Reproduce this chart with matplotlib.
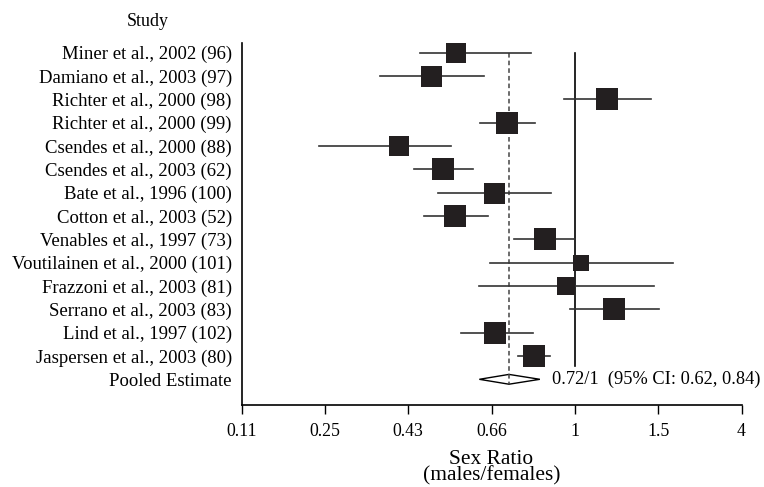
import numpy as np
import matplotlib
matplotlib.use("Agg")
import matplotlib.pyplot as plt

studies = ["Miner et al., 2002 (96)", "Damiano et al., 2003 (97)", "Richter et al., 2000 (98)",
           "Richter et al., 2000 (99)", "Csendes et al., 2000 (88)", "Csendes et al., 2003 (62)",
           "Bate et al., 1996 (100)", "Cotton et al., 2003 (52)", "Venables et al., 1997 (73)",
           "Voutilainen et al., 2000 (101)", "Frazzoni et al., 2003 (81)", "Serrano et al., 2003 (83)",
           "Lind et al., 1997 (102)", "Jaspersen et al., 2003 (80)"]
ratio = [0.549, 0.484, 1.167, 0.713, 0.405, 0.514, 0.668, 0.547, 0.862, 1.031, 0.955, 1.207, 0.673, 0.816]
ci_low = [0.456, 0.359, 0.947, 0.622, 0.235, 0.443, 0.502, 0.466, 0.738, 0.654, 0.618, 0.974, 0.563, 0.755]
ci_high = [0.804, 0.634, 1.45, 0.818, 0.535, 0.600, 0.886, 0.649, 1.0, 1.776, 1.472, 1.506, 0.811, 0.883]
weight = [20.5, 21, 21.5, 22.5, 20, 22.5, 21, 22.5, 22.5, 16.5, 18, 22, 22, 22.5]
pooled = 0.72
pooled_low = 0.62
pooled_high = 0.84
tick_vals = [0.11, 0.25, 0.43, 0.66, 1, 1.5, 4]
tick_labels = ["0.11", "0.25", "0.43", "0.66", "1", "1.5", "4"]

plt.rcParams['font.family'] = ['Liberation Serif', 'DejaVu Serif']

log_ticks = np.log(tick_vals)
pos = np.arange(len(tick_vals), dtype=float)

def fwd(x):
    x = np.clip(np.asarray(x, dtype=float), 1e-6, None)
    return np.interp(np.log(x), log_ticks, pos)

def inv(u):
    return np.exp(np.interp(np.asarray(u, dtype=float), pos, log_ticks))

W, H = 764, 487
fig = plt.figure(figsize=(W / 100, H / 100), dpi=100)
ax = fig.add_axes([241.5 / W, 1 - 404.5 / H, 500 / W, (404.5 - 42.7) / H])
ax.set_xscale('function', functions=(fwd, inv))
ax.set_xlim(tick_vals[0], tick_vals[-1])

n = len(studies)
ys = np.arange(n)

ax.plot([1, 1], [0, 13.45], color='black', lw=1.2, zorder=1)
ax.plot([pooled, pooled], [0, 14.22], color='#444444', lw=1.1, ls=(0, (3, 2)), zorder=1)

for i in range(n):
    ax.plot([ci_low[i], ci_high[i]], [ys[i], ys[i]], color='#333333', lw=1.2, zorder=2)
    ax.plot([ratio[i]], [ys[i]], marker='s', ms=weight[i] * 0.72, color='#231f20',
            markeredgewidth=0, zorder=3)

yp = n
dx = [pooled_low, pooled, pooled_high, pooled, pooled_low]
dy = [yp, yp - 0.21, yp, yp + 0.21, yp]
ax.fill(dx, dy, facecolor='white', edgecolor='black', lw=1.0, zorder=4)
ax.plot([pooled, pooled], [yp - 0.21, yp + 0.21], color='#444444', lw=1.1, ls=(0, (3, 2)), zorder=5)
ax.annotate("0.72/1  (95% CI: 0.62, 0.84)", xy=(pooled_high, yp), xytext=(9, 0),
            textcoords='offset points', fontsize=13.2, va='center', ha='left')

ax.set_ylim(15.08, -0.43)
ax.set_yticks(list(ys) + [yp])
ax.set_yticklabels(studies + ["Pooled Estimate"], fontsize=13.5)
ax.tick_params(axis='y', length=0, pad=7)
ax.set_xticks(tick_vals)
ax.set_xticklabels(tick_labels, fontsize=12.8)
ax.xaxis.set_minor_locator(matplotlib.ticker.NullLocator())
ax.tick_params(axis='x', length=6.5, width=1, pad=7, direction='out')
ax.spines['top'].set_visible(False)
ax.spines['right'].set_visible(False)
ax.spines['left'].set_linewidth(1.2)
ax.spines['bottom'].set_linewidth(1.2)
ax.set_xlabel("Sex Ratio\n(males/females)", fontsize=15.4, labelpad=7, linespacing=0.8)

fig.text(148 / W, 1 - 22 / H, "Study", fontsize=12.9, ha='center', va='center')

fig.savefig("out.png", dpi=100)
